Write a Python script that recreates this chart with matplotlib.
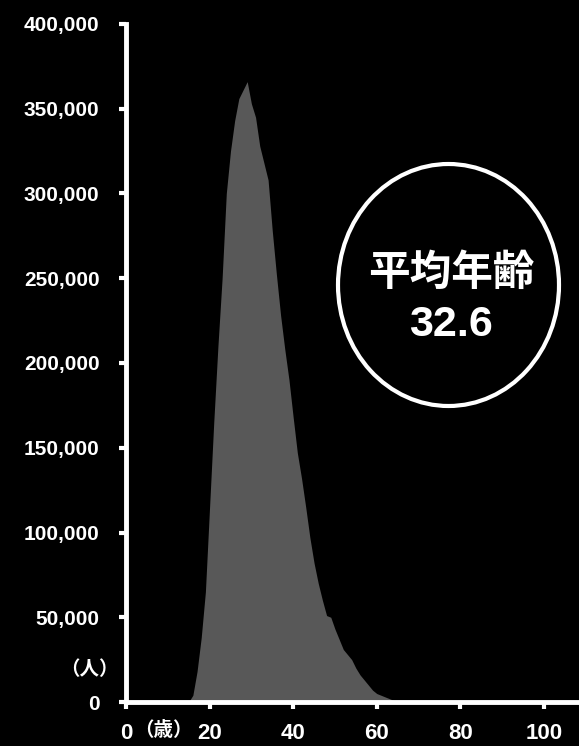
import matplotlib
matplotlib.use("Agg")
import matplotlib.pyplot as plt
from matplotlib.patches import Ellipse

ages = list(range(15, 66))
people = [0, 4000, 18000, 38000, 65000, 115000, 165000, 210000, 250000, 300000,
          325000, 343000, 356000, 361000, 366000, 353000, 345000, 328000, 318000, 308000,
          278000, 252000, 228000, 208000, 190000, 168000, 147000, 132000, 115000, 97000,
          82000, 70000, 60000, 51000, 50000, 43000, 37000, 31000, 28000, 25000,
          20000, 16000, 13000, 10000, 7000, 5000, 4000, 3000, 2000, 1000, 0]

x_ticks = [0, 20, 40, 60, 80, 100]
y_ticks = [0, 50000, 100000, 150000, 200000, 250000, 300000, 350000, 400000]
y_labels = ["0", "50,000", "100,000", "150,000", "200,000", "250,000", "300,000", "350,000", "400,000"]
avg_title = "平均年齢"
avg_value = "32.6"

W, H = 579, 746
fig = plt.figure(figsize=(W / 100, H / 100), dpi=100, facecolor="black")
ax = fig.add_axes([126 / W, 1 - 702 / H, 1 - 126 / W, (702 - 24) / H])
ax.set_facecolor("black")
ax.fill_between(ages, people, 0, color="#585858", linewidth=0)
ax.set_xlim(0, 108.4)
ax.set_ylim(0, 400000)

for s in ["top", "right"]:
    ax.spines[s].set_visible(False)
for s in ["left", "bottom"]:
    ax.spines[s].set_color("white")
    ax.spines[s].set_linewidth(3.5)

ax.set_xticks(x_ticks)
ax.set_xticklabels([str(v) for v in x_ticks])
ax.set_yticks(y_ticks)
ax.set_yticklabels(y_labels)
ax.tick_params(axis="both", colors="white", direction="out", length=5, width=3)
ax.tick_params(axis="y", pad=14)
ax.tick_params(axis="x", pad=10)
for lab in ax.get_yticklabels():
    lab.set_fontfamily(["Liberation Sans", "DejaVu Sans"])
    lab.set_fontweight("bold")
    lab.set_fontsize(15)
for lab in ax.get_xticklabels():
    lab.set_fontfamily(["Liberation Sans", "DejaVu Sans"])
    lab.set_fontweight("bold")
    lab.set_fontsize(16)

cjk = ["Noto Sans CJK JP", "DejaVu Sans"]
fig.text(89 / W, 1 - 670 / H, "（人）", color="white", fontsize=14, fontweight="bold",
         family=cjk, ha="center", va="center")
fig.text(163 / W, 1 - 731 / H, "（歳）", color="white", fontsize=14, fontweight="bold",
         family=cjk, ha="center", va="center")

ell = Ellipse((448.5 / W, 1 - 285 / H), 221 / W, 242 / H, transform=fig.transFigure,
              facecolor="black", edgecolor="white", linewidth=3)
fig.patches.append(ell)
fig.text(451 / W, 1 - 273 / H, avg_title, color="white", fontsize=30, fontweight="bold",
         family=cjk, ha="center", va="center")
fig.text(451 / W, 1 - 325 / H, avg_value, color="white", fontsize=31, fontweight="bold",
         family=["Liberation Sans", "DejaVu Sans"], ha="center", va="center")

fig.savefig("out.png", dpi=100, facecolor="black")
